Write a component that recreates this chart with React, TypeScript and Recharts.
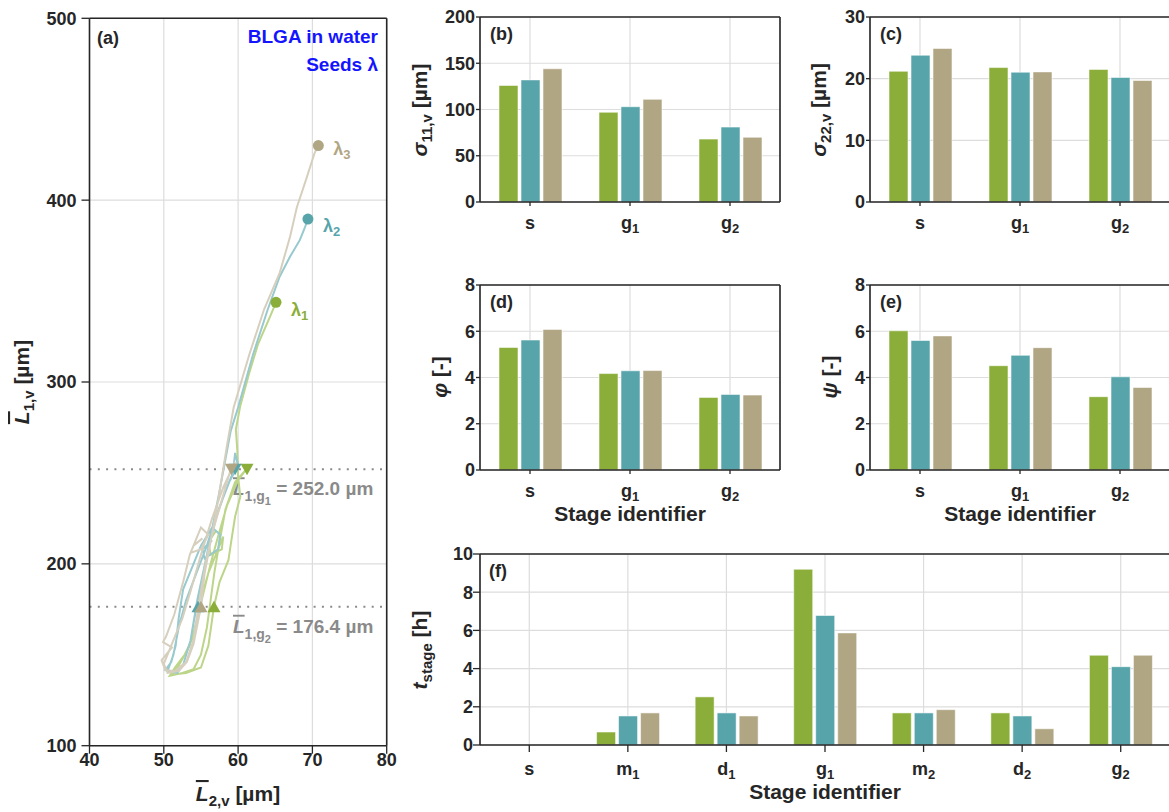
import React from 'react';
import {
  ComposedChart, BarChart, Bar, Line, Scatter, XAxis, YAxis, CartesianGrid, ReferenceLine,
} from 'recharts';

const FONT = '"Liberation Sans", Arial, Helvetica, sans-serif';

const C = {
  green: '#8aae39',
  teal: '#57a4aa',
  tan: '#b1a684',
  greenLine: '#bcd589',
  tealLine: '#97c9ce',
  tanLine: '#d6cfbe',
  axis: '#262626',
  grid: '#dddddd',
  ref: '#8a8a8a',
  blue: '#1414ff',
};

// ---- (a) mean length trajectories, points are [L2, L1] in µm
const PATH_L1: [number, number][] = [
  [57.0, 218], [56.0, 212], [56.3, 205], [57.8, 208], [58.0, 215], [57.0, 205], [56.0, 195],
  [55.3, 185], [54.6, 170], [54.0, 160], [52.8, 150], [51.5, 143], [50.8, 138.5], [52.5, 140],
  [54.0, 142], [55.0, 150], [55.8, 165], [56.3, 180], [56.8, 195], [57.5, 212], [58.3, 230],
  [59.6, 245], [61.2, 252.5], [60.0, 246], [58.5, 232], [57.3, 215], [56.3, 200], [55.4, 185],
  [54.5, 170], [53.5, 155], [52.0, 144], [51.0, 139], [53.0, 140], [55.0, 143], [56.0, 155],
  [56.75, 176.4], [57.5, 190], [58.7, 202], [59.1, 213], [59.6, 226], [60.3, 237], [60.0, 248],
  [59.9, 262], [59.7, 274], [60.3, 287], [61.5, 305], [62.7, 321], [64.3, 336], [65.1, 343.8],
];
const PATH_L2: [number, number][] = [
  [56.5, 213], [55.2, 208], [55.5, 203], [57.3, 208], [57.6, 216], [56.5, 220], [55.0, 210],
  [54.0, 200], [52.6, 186], [52.0, 170], [51.6, 155], [51.0, 146], [50.2, 141.6], [51.5, 140.5],
  [52.6, 144.4], [53.6, 158], [54.5, 180], [55.8, 205], [57.0, 225], [58.3, 240], [59.3, 250],
  [59.6, 261], [60.0, 254], [58.8, 245], [57.2, 228], [55.8, 210], [54.4, 195], [53.0, 180],
  [52.0, 165], [51.3, 150], [50.5, 141], [51.8, 140], [52.6, 144.4], [53.6, 158], [54.4, 176.4],
  [55.3, 195], [56.3, 215], [57.5, 240], [59.0, 273], [60.0, 286], [62.0, 315], [64.0, 340],
  [65.6, 358], [67.0, 369], [68.3, 378], [68.9, 384], [69.4, 389.6],
];
const PATH_L3: [number, number][] = [
  [55.2, 214], [54.0, 210], [53.6, 206], [55.0, 208], [56.0, 216], [55.0, 220], [53.5, 205],
  [52.6, 190], [51.4, 172], [50.3, 160], [49.9, 157], [51.1, 154], [49.7, 147], [50.2, 141.6],
  [51.5, 141], [53.0, 146], [54.0, 158], [54.6, 175], [55.6, 200], [56.6, 218], [57.8, 235],
  [59.0, 252], [59.6, 256], [58.0, 242], [56.5, 225], [55.0, 205], [53.6, 185], [52.5, 170],
  [51.0, 155], [50.0, 145], [50.5, 140], [52.0, 141], [53.1, 146], [54.0, 156], [55.0, 176.4],
  [55.5, 195], [56.2, 210], [57.2, 232], [58.5, 265], [59.4, 286], [61.5, 315], [63.5, 340],
  [65.6, 360], [67.0, 380], [67.9, 396], [69.2, 412], [70.3, 426], [70.8, 430],
];
const END_X = [65.1, 69.4, 70.8];
const END_Y = [343.8, 389.6, 430.0];
const L1_G1 = 252.0;
const L1_G2 = 176.4;
const G1_X = [61.2, 59.6, 59.1];
const G2_X = [56.75, 54.6, 55.0];
const A_XTICKS = [40, 50, 60, 70, 80];
const A_YTICKS = [100, 200, 300, 400, 500];

// ---- (b)-(e) stage statistics
const STAGES_S = ['s', 'g1', 'g2'];
const SIG11_L1 = [126, 97, 68];
const SIG11_L2 = [132, 103, 81];
const SIG11_L3 = [144, 111, 70];
const SIG22_L1 = [21.2, 21.8, 21.5];
const SIG22_L2 = [23.8, 21.05, 20.2];
const SIG22_L3 = [24.9, 21.1, 19.7];
const PHI_L1 = [5.3, 4.17, 3.14];
const PHI_L2 = [5.62, 4.29, 3.27];
const PHI_L3 = [6.08, 4.3, 3.24];
const PSI_L1 = [6.02, 4.51, 3.17];
const PSI_L2 = [5.6, 4.96, 4.03];
const PSI_L3 = [5.8, 5.29, 3.57];

// ---- (f) stage durations [h]
const STAGES_ALL = ['s', 'm1', 'd1', 'g1', 'm2', 'd2', 'g2'];
const T_L1 = [0, 0.68, 2.52, 9.2, 1.68, 1.68, 4.7];
const T_L2 = [0, 1.52, 1.68, 6.78, 1.68, 1.52, 4.1];
const T_L3 = [0, 1.68, 1.52, 5.87, 1.85, 0.85, 4.7];

const toXY = (p: [number, number][]) => p.map(([x, y]) => ({ x, y }));

const axisLine = { stroke: C.axis, strokeWidth: 1.6 };
const tickLine = { stroke: C.axis, strokeWidth: 1.3 };
const tickFont = { fill: C.axis, fontSize: 18, fontWeight: 700, fontFamily: FONT };

function StageTick({ x, y, payload, off = 20.5 }: any) {
  const s = String(payload.value);
  return (
    <text x={x} y={y + off} textAnchor="middle" fill={C.axis} fontFamily={FONT} fontWeight={700} fontSize={18}>
      {s[0]}
      {s.length > 1 && <tspan fontSize={13} dy={4}>{s.slice(1)}</tspan>}
    </text>
  );
}

const triUp = (color: string) => (p: any) => (
  <polygon points={`${p.cx},${p.cy - 6} ${p.cx - 6.5},${p.cy + 5.5} ${p.cx + 6.5},${p.cy + 5.5}`} fill={color} />
);
const triDown = (color: string) => (p: any) => (
  <polygon points={`${p.cx},${p.cy + 6} ${p.cx - 6.5},${p.cy - 5.5} ${p.cx + 6.5},${p.cy - 5.5}`} fill={color} />
);
const endDot = (color: string, sub: string, dy: number) => (p: any) => (
  <g>
    <circle cx={p.cx} cy={p.cy} r={5.5} fill={color} />
    <text x={p.cx + 15} y={p.cy + dy} fill={color} fontFamily={FONT} fontWeight={700} fontSize={18}>
      λ<tspan fontSize={13} dy={4}>{sub}</tspan>
    </text>
  </g>
);

const refLabel = (sub: string, value: string) => (props: any) => {
  const { x, y } = props.viewBox;
  return (
    <text x={x + 143.5} y={y + 26} fill={C.ref} fontFamily={FONT} fontWeight={700} fontSize={19}>
      <tspan fontStyle="italic" textDecoration="overline">L</tspan>
      <tspan fontSize={14} dy={6}>1,g</tspan>
      <tspan fontSize={11} dy={4}>{sub}</tspan>
      <tspan dy={-10}>{` = ${value} µm`}</tspan>
    </text>
  );
};

function PanelA() {
  const series = [
    { path: PATH_L1, line: C.greenLine, color: C.green, sub: '1', dy: 14 },
    { path: PATH_L2, line: C.tealLine, color: C.teal, sub: '2', dy: 13 },
    { path: PATH_L3, line: C.tanLine, color: C.tan, sub: '3', dy: 9 },
  ];
  return (
    <div style={{ position: 'absolute', left: 0, top: 0 }}>
      <ComposedChart width={400} height={812} margin={{ top: 17.3, right: 12.3, bottom: 0, left: 0 }}>
        <CartesianGrid stroke={C.grid} strokeWidth={1.2} />
        <XAxis type="number" dataKey="x" domain={[40, 80]} ticks={A_XTICKS} height={66.3}
          tickSize={8} tickMargin={0} axisLine={axisLine} tickLine={tickLine} tick={tickFont} allowDataOverflow />
        <XAxis xAxisId="top" orientation="top" type="number" domain={[40, 80]} ticks={A_XTICKS} height={1}
          tickSize={8} axisLine={axisLine} tickLine={tickLine} tick={false} />
        <YAxis type="number" domain={[100, 500]} ticks={A_YTICKS} width={89.5}
          tickSize={8} tickMargin={5} axisLine={axisLine} tickLine={tickLine} tick={tickFont} allowDataOverflow />
        <YAxis yAxisId="right" orientation="right" type="number" domain={[100, 500]} ticks={A_YTICKS} width={1}
          tickSize={8} axisLine={axisLine} tickLine={tickLine} tick={false} />
        <ReferenceLine y={L1_G1} stroke={C.ref} strokeWidth={2} strokeDasharray="2 6.3"
          label={{ content: refLabel('1', L1_G1.toFixed(1)) }} />
        <ReferenceLine y={L1_G2} stroke={C.ref} strokeWidth={2} strokeDasharray="2 6.3"
          label={{ content: refLabel('2', L1_G2.toFixed(1)) }} />
        {series.map((s) => (
          <Line key={s.sub} data={toXY(s.path)} dataKey="y" type="linear" stroke={s.line}
            strokeWidth={2} dot={false} activeDot={false} isAnimationActive={false} />
        ))}
        {series.map((s, i) => (
          <Scatter key={`g1-${s.sub}`} data={[{ x: G1_X[i], y: L1_G1 }]} dataKey="y"
            shape={triDown(s.color)} isAnimationActive={false} />
        ))}
        {series.map((s, i) => (
          <Scatter key={`g2-${s.sub}`} data={[{ x: G2_X[i], y: L1_G2 }]} dataKey="y"
            shape={triUp(s.color)} isAnimationActive={false} />
        ))}
        {series.map((s, i) => (
          <Scatter key={`end-${s.sub}`} data={[{ x: END_X[i], y: END_Y[i] }]} dataKey="y"
            shape={endDot(s.color, s.sub, s.dy)} isAnimationActive={false} />
        ))}
      </ComposedChart>
    </div>
  );
}

function BarPanel({
  x0, y0, pw, ph, cats, s1, s2, s3, domain, ticks, tick = 4, yMargin = 1,
}: {
  x0: number; y0: number; pw: number; ph: number; cats: string[];
  s1: number[]; s2: number[]; s3: number[]; domain: [number, number]; ticks: number[];
  tick?: number; yMargin?: number;
}) {
  const data = cats.map((c, i) => ({ cat: c, l1: s1[i], l2: s2[i], l3: s3[i] }));
  const padL = 60, padT = 20, padR = 20, padB = 60;
  const bars = [
    { key: 'l1', color: C.green },
    { key: 'l2', color: C.teal },
    { key: 'l3', color: C.tan },
  ];
  return (
    <div style={{ position: 'absolute', left: x0 - padL, top: y0 - padT }}>
      <BarChart width={pw + padL + padR} height={ph + padT + padB} data={data}
        margin={{ top: padT - 1, right: padR - 1, bottom: 0, left: 0 }} barSize={19} barGap={3}>
        <CartesianGrid stroke={C.grid} strokeWidth={1.2} />
        <XAxis dataKey="cat" height={padB} interval={0} tickSize={tick} axisLine={axisLine}
          tickLine={tickLine} tick={<StageTick />} />
        <XAxis xAxisId="top" orientation="top" dataKey="cat" height={1} interval={0} tickSize={tick}
          axisLine={axisLine} tickLine={tickLine} tick={false} />
        <YAxis type="number" domain={domain} ticks={ticks} width={padL} tickSize={tick} tickMargin={yMargin}
          axisLine={axisLine} tickLine={tickLine} tick={tickFont} allowDataOverflow />
        <YAxis yAxisId="right" orientation="right" type="number" domain={domain} ticks={ticks} width={1}
          tickSize={tick} axisLine={axisLine} tickLine={tickLine} tick={false} />
        {bars.map((b) => (
          <Bar key={b.key} dataKey={b.key} fill={b.color} stroke="#ffffff" strokeOpacity={0.55}
            strokeWidth={1} isAnimationActive={false} />
        ))}
      </BarChart>
    </div>
  );
}

const Lbar = () => <tspan fontStyle="italic" textDecoration="overline">L</tspan>;

function Labels() {
  return (
    <svg width={1169} height={812} style={{ position: 'absolute', left: 0, top: 0, pointerEvents: 'none' }}>
      <g fontFamily={FONT} fontWeight="bold" fill={C.axis}>
        <text x={97} y={44} fontSize={18}>(a)</text>
        <text x={490} y={40} fontSize={18}>(b)</text>
        <text x={880} y={40} fontSize={18}>(c)</text>
        <text x={490} y={308} fontSize={18}>(d)</text>
        <text x={880} y={308} fontSize={18}>(e)</text>
        <text x={489} y={577} fontSize={18}>(f)</text>

        <text x={378} y={43} fontSize={19} textAnchor="end" fill={C.blue}>BLGA in water</text>
        <text x={378} y={71} fontSize={19} textAnchor="end" fill={C.blue}>Seeds λ</text>

        <text transform="translate(29,382) rotate(-90)" textAnchor="middle" fontSize={21}>
          <Lbar /><tspan fontSize={15} dy={5}>1,v</tspan><tspan dy={-5}> [µm]</tspan>
        </text>
        <text x={238} y={801} textAnchor="middle" fontSize={21}>
          <Lbar /><tspan fontSize={15} dy={5}>2,v</tspan><tspan dy={-5}> [µm]</tspan>
        </text>

        <text transform="translate(427,110) rotate(-90)" textAnchor="middle" fontSize={21}>
          <tspan fontStyle="italic">σ</tspan><tspan fontSize={15} dy={5}>11,v</tspan><tspan dy={-5}> [µm]</tspan>
        </text>
        <text transform="translate(826,110) rotate(-90)" textAnchor="middle" fontSize={21}>
          <tspan fontStyle="italic">σ</tspan><tspan fontSize={15} dy={5}>22,v</tspan><tspan dy={-5}> [µm]</tspan>
        </text>
        <text transform="translate(447,377) rotate(-90)" textAnchor="middle" fontSize={21}>
          <tspan fontStyle="italic">φ</tspan> [-]
        </text>
        <text transform="translate(837,377) rotate(-90)" textAnchor="middle" fontSize={21}>
          <tspan fontStyle="italic">ψ</tspan> [-]
        </text>
        <text transform="translate(427,650) rotate(-90)" textAnchor="middle" fontSize={21}>
          <tspan fontStyle="italic">t</tspan><tspan fontSize={15} dy={5}>stage</tspan><tspan dy={-5}> [h]</tspan>
        </text>

        <text x={630} y={521} textAnchor="middle" fontSize={21}>Stage identifier</text>
        <text x={1020} y={521} textAnchor="middle" fontSize={21}>Stage identifier</text>
        <text x={825} y={799} textAnchor="middle" fontSize={21}>Stage identifier</text>
      </g>
    </svg>
  );
}

export default function App() {
  return (
    <div style={{
      position: 'absolute', left: 0, top: 0, width: 1169, height: 812,
      overflow: 'hidden', background: '#ffffff', fontFamily: FONT,
    }}>
      <PanelA />
      <BarPanel x0={480} y0={16.7} pw={300} ph={185} cats={STAGES_S}
        s1={SIG11_L1} s2={SIG11_L2} s3={SIG11_L3} domain={[0, 200]} ticks={[0, 50, 100, 150, 200]} />
      <BarPanel x0={870} y0={16.7} pw={300} ph={185} cats={STAGES_S}
        s1={SIG22_L1} s2={SIG22_L2} s3={SIG22_L3} domain={[0, 30]} ticks={[0, 10, 20, 30]} />
      <BarPanel x0={480} y0={285} pw={300} ph={185} cats={STAGES_S}
        s1={PHI_L1} s2={PHI_L2} s3={PHI_L3} domain={[0, 8]} ticks={[0, 2, 4, 6, 8]} />
      <BarPanel x0={870} y0={285} pw={300} ph={185} cats={STAGES_S}
        s1={PSI_L1} s2={PSI_L2} s3={PSI_L3} domain={[0, 8]} ticks={[0, 2, 4, 6, 8]} />
      <BarPanel x0={480} y0={554} pw={690} ph={191} cats={STAGES_ALL}
        s1={T_L1} s2={T_L2} s3={T_L3} domain={[0, 10]} ticks={[0, 2, 4, 6, 8, 10]} tick={7} yMargin={0} />
      <Labels />
    </div>
  );
}
